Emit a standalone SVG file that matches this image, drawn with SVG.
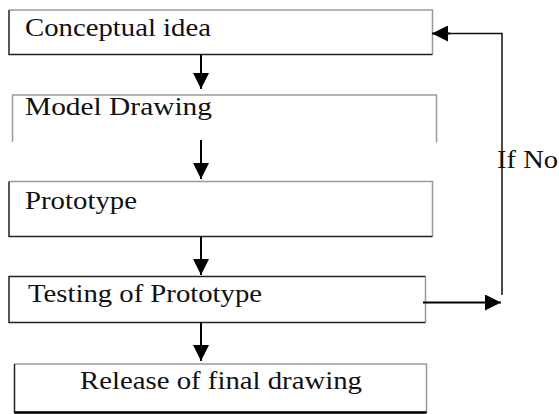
<svg xmlns="http://www.w3.org/2000/svg" width="559" height="414" viewBox="0 0 559 414">
  <style>
    .lbl { font-family: "Liberation Serif", "Times New Roman", serif; font-size: 26px; fill: #111; }
    .lt { stroke: #9a9a9a; stroke-width: 1.5; fill: none; }
    .dk { stroke: #222; stroke-width: 1.5; fill: none; }
    .arr { stroke: #000; stroke-width: 2; fill: none; marker-end: url(#head); }
    .fb { stroke: #111; stroke-width: 1.5; fill: none; }
  </style>
  <defs>
    <marker id="head" viewBox="0 0 16 16" refX="16" refY="8" markerWidth="16" markerHeight="16" markerUnits="userSpaceOnUse" orient="auto">
      <path d="M0,0 L16,8 L0,16 z" fill="#000"/>
    </marker>
  </defs>
  <rect width="559" height="414" fill="#fff"/>

  <g id="n1">
    <path class="lt" d="M9,10 H432.5 V54.5"/>
    <path class="dk" d="M9,10 V54.5 H432.5"/>
    <text class="lbl" x="25" y="36" textLength="186" lengthAdjust="spacingAndGlyphs">Conceptual idea</text>
  </g>

  <g id="n2">
    <path class="lt" d="M12.5,142 V95 H436.5 V142.5"/>
    <text class="lbl" x="25" y="115" textLength="187" lengthAdjust="spacingAndGlyphs">Model Drawing</text>
  </g>

  <g id="n3">
    <path class="lt" d="M9,181.5 H432.5 V236.5"/>
    <path class="dk" d="M9,181.5 V236.5 H432.5"/>
    <text class="lbl" x="25" y="209" textLength="112" lengthAdjust="spacingAndGlyphs">Prototype</text>
  </g>

  <g id="n4">
    <path class="lt" d="M425.5,276.5 V322.5"/>
    <path class="dk" d="M425.5,276.5 H9 V322.5 H425.5"/>
    <text class="lbl" x="28" y="301.5" textLength="234" lengthAdjust="spacingAndGlyphs">Testing of Prototype</text>
  </g>

  <g id="n5">
    <path class="lt" d="M14.5,364 H426.5 V412.5"/>
    <path class="dk" d="M14.5,364 V412.5 H426.5"/>
    <path d="M14.5,412.5 H426.5" stroke="#000" stroke-width="2.5"/>
    <text class="lbl" x="80" y="388.5" textLength="282" lengthAdjust="spacingAndGlyphs">Release of final drawing</text>
  </g>

  <g id="connectors">
    <line class="arr" x1="201" y1="54.5" x2="201" y2="89"/>
    <line class="arr" x1="201" y1="140" x2="201" y2="179"/>
    <line class="arr" x1="201" y1="237" x2="201" y2="275"/>
    <line class="arr" x1="201" y1="322" x2="201" y2="361"/>
    <line class="arr" x1="423" y1="302.5" x2="501" y2="302.5"/>
    <polyline class="fb" points="502,295 502,33.5 446,33.5"/>
    <line class="arr" x1="450" y1="33.5" x2="432" y2="33.5"/>
    <text class="lbl" x="497" y="168" textLength="61" lengthAdjust="spacingAndGlyphs">If No</text>
  </g>
</svg>
